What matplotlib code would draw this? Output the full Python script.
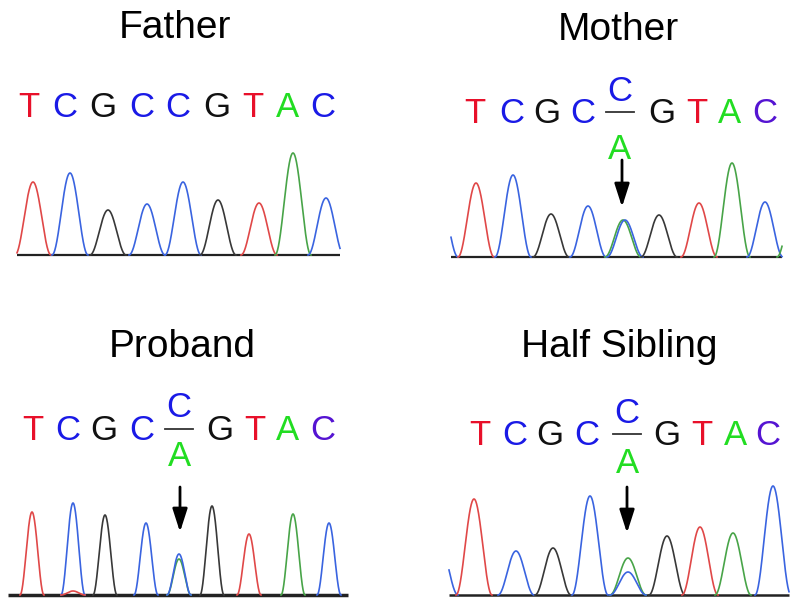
import numpy as np
import matplotlib
matplotlib.use('Agg')
import matplotlib.pyplot as plt

plt.rcParams['font.family'] = ['Liberation Sans', 'DejaVu Sans']

# colours
TRACE = {'T': '#e04848', 'C': '#3a64e0', 'G': '#383838', 'A': '#48a448'}
TEXT = {'T': '#e8102a', 'C': '#1a1ae6', 'G': '#111111', 'A': '#22dd22', 'c': '#5514d2'}

# panel titles
titles = ['Father', 'Mother', 'Proband', 'Half Sibling']
title_x = [175, 618, 182, 619]
title_y = [38, 40, 357, 357]

# base calls (c = last C, purplish; '/' = heterozygous C/A)
father_seq = list('TCGCCGTAC')
father_seq_x = [29, 65, 103, 142, 178, 217, 253, 287, 323]
mother_seq = list('TCGC/GTAc')
mother_seq_x = [475, 512, 547, 583, 620, 662, 697, 730, 765]
proband_seq = list('TCGC/GTAc')
proband_seq_x = [33, 68, 104, 142, 179, 220, 255, 288, 323]
half_seq = list('TCGC/GTAc')
half_seq_x = [480, 515, 550, 587, 627, 667, 702, 735, 768]

# chromatogram peaks: position, height above baseline, base
father_peak_x = [33, 70, 108, 147, 183, 218, 259, 293, 326]
father_peak_h = [73, 82, 45, 51, 73, 55, 52, 102, 57]
father_peak_b = list('TCGCCGTAC')

mother_peak_x = [440, 476, 513, 551, 588, 623, 625, 659, 699, 732, 765, 795]
mother_peak_h = [60, 74, 82, 43, 51, 37, 37, 42, 54, 94, 55, 60]
mother_peak_b = list('CTCGCACGTACA')

proband_peak_x = [32, 73, 73, 105, 146, 179, 179, 212, 249, 293, 329]
proband_peak_h = [83, 92, 4, 80, 72, 36, 41, 89, 61, 81, 72]
proband_peak_b = list('TCTGCACGTAC')

half_peak_x = [440, 474, 516, 553, 590, 628, 628, 667, 700, 733, 773]
half_peak_h = [50, 96, 44, 47, 99, 37, 23, 59, 68, 62, 109]
half_peak_b = list('CTCGCACGTAC')

fig = plt.figure(figsize=(8, 6.12), dpi=100)
ax = fig.add_axes([0, 0, 1, 1])
ax.set_xlim(0, 800)
ax.set_ylim(612, 0)
ax.axis('off')


def draw_trace(px, ph, pb, x0, x1, base, hw, blw):
    ax.plot([x0, x1], [base, base], color='#222222', lw=blw, zorder=1,
            solid_capstyle='butt')
    for cx, h, b in zip(px, ph, pb):
        lo = max(x0, cx - hw)
        hi = min(x1, cx + hw)
        if hi <= lo:
            continue
        xs = np.linspace(lo, hi, 200)
        ys = base - h * np.cos(0.5 * np.pi * (xs - cx) / hw) ** 2
        ax.plot(xs, ys, color=TRACE[b], lw=1.2, zorder=2)


def draw_seq(seq, xs, base_y, c_y, a_y, line_y, line_half):
    for s, x in zip(seq, xs):
        if s == '/':
            ax.text(x, c_y, 'C', color=TEXT['C'], fontsize=25, ha='center', va='baseline')
            ax.text(x, a_y, 'A', color=TEXT['A'], fontsize=25, ha='center', va='baseline')
            ax.plot([x - line_half, x + line_half], [line_y, line_y], color='#333333', lw=1.3)
        else:
            ax.text(x, base_y, s.upper(), color=TEXT[s], fontsize=25, ha='center', va='baseline')


def draw_arrow(x, y0, y1):
    ax.annotate('', xy=(x, y1), xytext=(x, y0),
                arrowprops=dict(arrowstyle='-|>,head_length=1.4,head_width=0.45',
                                lw=2, color='black', shrinkA=0, shrinkB=0))


for t, x, y in zip(titles, title_x, title_y):
    ax.text(x, y, t, fontsize=28, ha='center', va='baseline', color='black')

draw_seq(father_seq, father_seq_x, 117, None, None, None, 0)
draw_seq(mother_seq, mother_seq_x, 123, 101, 159, 112, 14)
draw_seq(proband_seq, proband_seq_x, 440, 417, 466, 429, 14)
draw_seq(half_seq, half_seq_x, 445, 423, 473, 434, 14)

draw_trace(father_peak_x, father_peak_h, father_peak_b, 17, 340, 255, 18, 1.6)
draw_trace(mother_peak_x, mother_peak_h, mother_peak_b, 451, 782, 257, 18, 1.6)
draw_trace(proband_peak_x, proband_peak_h, proband_peak_b, 8, 348, 595, 12, 2.5)
draw_trace(half_peak_x, half_peak_h, half_peak_b, 449, 789, 595, 18, 1.8)

draw_arrow(622, 160, 207)
draw_arrow(180, 487, 532)
draw_arrow(627, 487, 533)

fig.savefig('out.png', dpi=100)
